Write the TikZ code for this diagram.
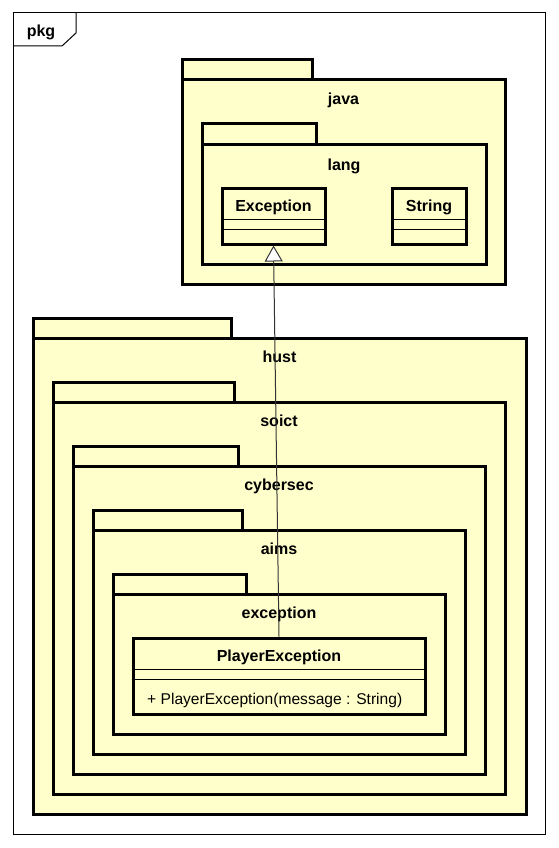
\documentclass[tikz,border=0pt]{standalone}
\usepackage{fontspec}
\setmainfont{Liberation Sans}
\usetikzlibrary{arrows.meta}
\definecolor{pkgfill}{HTML}{FFFFCC}
\definecolor{conn}{HTML}{333333}
\tikzset{
  pkgbox/.style={draw=black, fill=pkgfill, line width=3pt},
  pkglabel/.style={anchor=base, inner sep=0pt, font=\fontsize{16}{18}\selectfont\bfseries},
  classbox/.style={draw=black, fill=pkgfill, line width=3pt, rectangle, inner sep=0pt},
  sepline/.style={draw=black, line width=1pt},
  oplabel/.style={anchor=base west, inner sep=0pt, font=\fontsize{15.6}{18}\selectfont},
  genarrow/.style={draw=conn, line width=1pt, -{Triangle[open, length=16pt, width=18pt, fill=white, line width=1pt]}}
}
\newcommand{\umlpkg}[8]{%
  % #1 name, #2 left, #3 tab top, #4 tab right, #5 body top, #6 right, #7 bottom, #8 label baseline
  \filldraw[pkgbox] (#2,#3) rectangle (#4,#5);
  \filldraw[pkgbox] (#2,#5) rectangle (#6,#7);
  \node[pkglabel] (lbl#1) at ({(#2+#6)/2},#8) {#1};
}
\begin{document}
\begin{tikzpicture}[x=1pt,y=-1pt]
\useasboundingbox (0,0) rectangle (558,848);
% frame
\draw[line width=1pt] (13,13) rectangle (545,834);
\draw[line width=1pt] (13,46) -- (62,46) -- (76,33) -- (76,13);
\node[pkglabel] (framelbl) at (41,37) {pkg};
% java / lang
\umlpkg{java}{182}{60}{312}{80}{505}{284}{105}
\umlpkg{lang}{202}{124}{316}{144}{486}{264}{170}
% classes in lang
\node[classbox, minimum width=103pt, minimum height=56pt] (Exc) at (273.5,216) {};
\node[pkglabel] (ExcName) at (273.5,211) {Exception};
\draw[sepline] (Exc.west |- 0,219) -- (Exc.east |- 0,219);
\draw[sepline] (Exc.west |- 0,229) -- (Exc.east |- 0,229);
\node[classbox, minimum width=74pt, minimum height=56pt] (Str) at (429,216) {};
\node[pkglabel] (StrName) at (429,211) {String};
\draw[sepline] (Str.west |- 0,219) -- (Str.east |- 0,219);
\draw[sepline] (Str.west |- 0,229) -- (Str.east |- 0,229);
% hust nesting
\umlpkg{hust}{33}{318}{231}{338}{526}{814}{362}
\umlpkg{soict}{53}{382}{234}{402}{505}{794}{426}
\umlpkg{cybersec}{73}{446}{238}{466}{485}{774}{490}
\umlpkg{aims}{93}{510}{242}{530}{465}{754}{554}
\umlpkg{exception}{113}{574}{246}{594}{445}{734}{618}
% PlayerException
\node[classbox, minimum width=292pt, minimum height=76pt] (PE) at (279,676) {};
\node[pkglabel] (PEName) at (279,661) {PlayerException};
\draw[sepline] (PE.west |- 0,669) -- (PE.east |- 0,669);
\draw[sepline] (PE.west |- 0,679) -- (PE.east |- 0,679);
\node[oplabel] (PEop) at (147,704) {+ PlayerException(message : String)};
% generalization
\draw[genarrow] (PE.north) -- (Exc.south);
\end{tikzpicture}
\end{document}
